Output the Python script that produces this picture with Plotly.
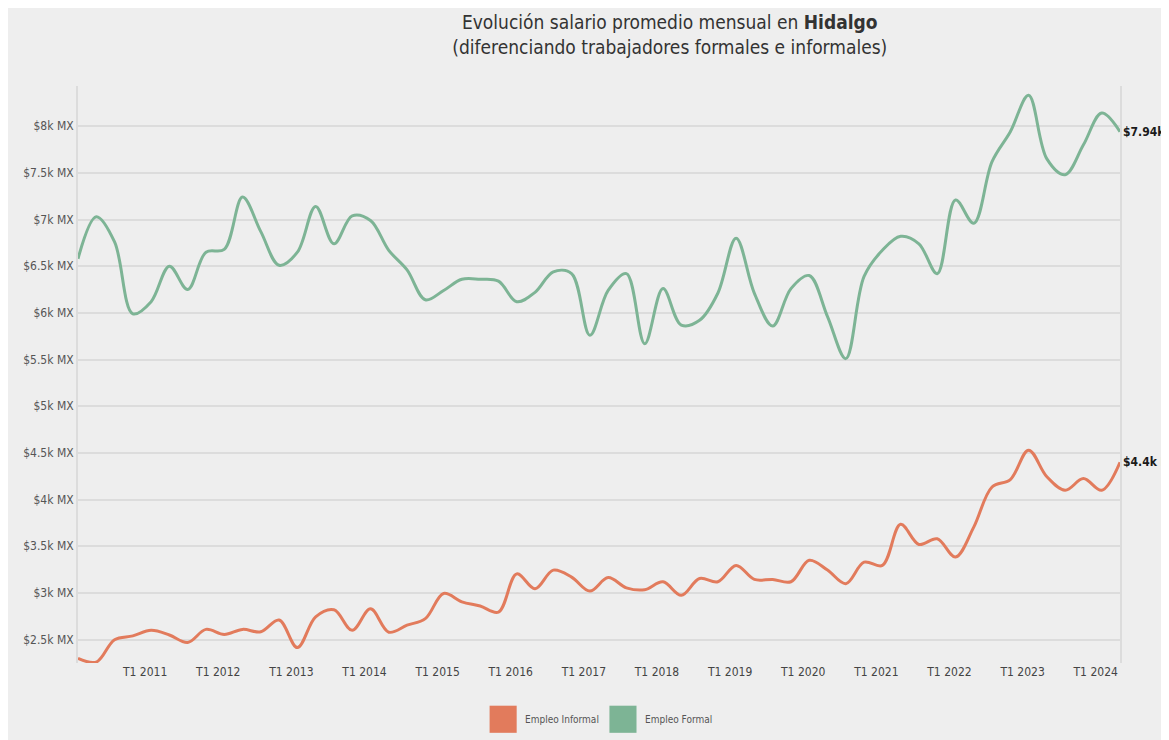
import plotly.graph_objects as go

# quarterly series, T1 2010 .. T2 2024
QUARTERS = [f"T{q} {y}" for y in range(2010, 2025) for q in range(1, 5)][:58]

FORMAL = [6580, 7030, 6760, 5990, 6120, 6500, 6250, 6650, 6680, 7240,
          6870, 6510, 6650, 7140, 6740, 7040, 6990, 6670, 6460, 6140,
          6240, 6360, 6360, 6340, 6120, 6220, 6440, 6420, 5760, 6240,
          6420, 5670, 6260, 5870, 5920, 6210, 6800, 6210, 5860, 6260,
          6400, 5960, 5510, 6390, 6670, 6820, 6740, 6420, 7210, 6960,
          7620, 7940, 8330, 7650, 7480, 7800, 8140, 7940]

INFORMAL = [2300, 2260, 2500, 2540, 2600, 2550, 2470, 2610, 2555, 2610,
            2585, 2710, 2415, 2745, 2820, 2600, 2830, 2580, 2655, 2725,
            2995, 2905, 2860, 2795, 3205, 3045, 3245, 3170, 3020, 3165,
            3055, 3035, 3120, 2975, 3155, 3120, 3295, 3145, 3145, 3120,
            3350, 3245, 3100, 3330, 3295, 3735, 3520, 3580, 3385, 3705,
            4135, 4215, 4530, 4245, 4100, 4225, 4100, 4400]

X_TICKS = [f"T1 {y}" for y in range(2011, 2025)]
Y_TICKS = [2500, 3000, 3500, 4000, 4500, 5000, 5500, 6000, 6500, 7000, 7500, 8000]
Y_TEXT = [f"${v / 1000:g}k MX" for v in Y_TICKS]

GREEN = "#7db495"
ORANGE = "#e27b5c"
BG = "#eeeeee"
FONT = "Liberation Sans Narrow, DejaVu Sans Condensed, Roboto, sans-serif"

idx = list(range(len(QUARTERS)))

fig = go.Figure()
fig.add_trace(go.Scatter(
    x=idx, y=FORMAL, mode="lines", name="Empleo Formal", showlegend=False,
    customdata=QUARTERS, hovertemplate="%{customdata}: %{y}<extra></extra>",
    line=dict(color=GREEN, width=3, shape="spline", smoothing=1),
))
fig.add_trace(go.Scatter(
    x=idx, y=INFORMAL, mode="lines", name="Empleo Informal", showlegend=False,
    customdata=QUARTERS, hovertemplate="%{customdata}: %{y}<extra></extra>",
    line=dict(color=ORANGE, width=3, shape="spline", smoothing=1),
))

for series in (FORMAL, INFORMAL):
    v = series[-1]
    fig.add_annotation(
        x=idx[-1], y=v, text=f"<b>${v / 1000:g}k MX</b>", showarrow=False,
        xanchor="left", xshift=1, font=dict(size=12, color="#1a1a1a", family=FONT),
    )

# legend drawn as square swatches below the plot
for x0, name, color in [(0.395, "Empleo Informal", ORANGE), (0.510, "Empleo Formal", GREEN)]:
    fig.add_shape(type="rect", xref="paper", yref="paper",
                  x0=x0, x1=x0 + 0.026, y0=-0.121, y1=-0.074,
                  fillcolor=color, line=dict(width=0))
    fig.add_annotation(xref="paper", yref="paper", x=x0 + 0.032, y=-0.098,
                       text=name, showarrow=False, xanchor="left", yanchor="middle",
                       font=dict(size=10, color="#555555"))

fig.update_layout(
    width=1161, height=732,
    paper_bgcolor=BG, plot_bgcolor=BG,
    font=dict(family=FONT, color="#555555", size=12),
    margin=dict(l=70, r=49, t=78, b=77),
    showlegend=False,
    title=dict(
        text="Evolución salario promedio mensual en <b>Hidalgo</b><br>"
             "(diferenciando trabajadores formales e informales)",
        x=0.570, xanchor="center", y=0.971, yanchor="top",
        font=dict(size=19, color="#333333", family=FONT),
    ),
)
fig.update_xaxes(
    range=[0, len(QUARTERS) - 1],
    tickvals=[QUARTERS.index(t) - 0.33 for t in X_TICKS], ticktext=X_TICKS,
    showgrid=False, zeroline=False,
    ticks="", tickfont=dict(size=12, color="#444444"),
)
fig.update_yaxes(
    range=[2250, 8430], tickvals=Y_TICKS, ticktext=Y_TEXT,
    gridcolor="#dcdcdc", gridwidth=2, zeroline=False,
    showline=True, mirror=True, linecolor="#dcdcdc", linewidth=2,
    ticks="", tickfont=dict(size=12, color="#555555"),
)

fig.write_html("out.html")
